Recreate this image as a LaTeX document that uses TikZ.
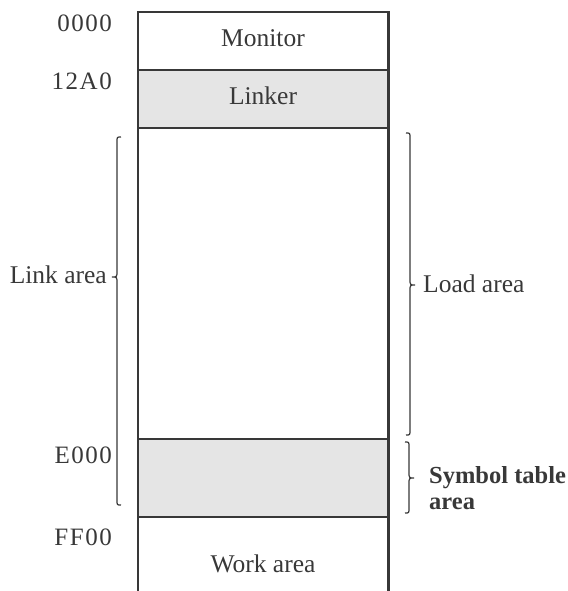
\documentclass[tikz,border=0pt]{standalone}
\usepackage{fontspec}
\setmainfont{Liberation Serif}
\newfontfamily\addrfont[LetterSpace=6]{Liberation Serif}

% memory map of the linker's address space
\colorlet{ink}{black!78}
\colorlet{shade}{black!10}

\tikzset{
  region/.style={draw=none, minimum width=250pt, inner sep=0pt, anchor=north west},
  shaded/.style={region, fill=shade},
  divider/.style={draw=ink, line width=1.2pt},
  frame/.style={draw=ink, line width=2.6pt},
  bracestyle/.style={draw=ink, line width=1.2pt},
  lbl/.style={text=ink, font=\fontsize{25.5}{29}\selectfont, inner sep=0pt},
  addr/.style={lbl, font=\fontsize{25}{29}\selectfont\addrfont, anchor=base east},
}

% x, top, tip, bottom, direction (+1 tip to the right, -1 tip to the left)
\newcommand\sidebrace[5]{%
  \draw[bracestyle] ({#1-(#5)*4},#2) .. controls (#1,#2) .. (#1,#2+5)
    -- (#1,#3-6) .. controls (#1,#3) .. ({#1+(#5)*5},#3)
    .. controls (#1,#3) .. (#1,#3+6)
    -- (#1,#4-5) .. controls (#1,#4) .. ({#1-(#5)*4},#4);}

\begin{document}
\begin{tikzpicture}[x={(1pt,0)}, y={(0,-1pt)}]
  \useasboundingbox (0,0) rectangle (567,591);

  % memory regions
  \node[region, minimum height=58pt]  (monitor) at (138,12)  {};
  \node[shaded, minimum height=58pt]  (linker)  at (138,70)  {};
  \node[region, minimum height=311pt] (load)    at (138,128) {};
  \node[shaded, minimum height=78pt]  (symtab)  at (138,439) {};
  \node[region, minimum height=74pt]  (work)    at (138,517) {};

  % boundaries between regions
  \draw[divider] (linker.north west) -- (linker.north east);
  \draw[divider] (load.north west) -- (load.north east);
  \draw[divider] (symtab.north west) -- (symtab.north east);
  \draw[divider] (work.north west) -- (work.north east);

  % outer frame, open at the bottom
  \draw[frame, line join=miter] (work.south west) -- (monitor.north west)
    -- (monitor.north east) -- (work.south east);

  % region names
  \node[lbl, anchor=base] (tmonitor) at (263,47)  {Monitor};
  \node[lbl, anchor=base] (tlinker)  at (263,105) {Linker};
  \node[lbl, anchor=base] (twork)    at (263,572) {Work area};

  % start addresses
  \node[addr] (a0000) at (112,32)  {0000};
  \node[addr] (a12a0) at (112,90)  {12A0};
  \node[addr] (ae000) at (112,463) {E000};
  \node[addr] (aff00) at (112,545) {FF00};

  % link area
  \sidebrace{117}{137}{277}{505}{-1}
  \node[lbl, anchor=base east] (tlink) at (107,283) {Link area};

  % load area
  \sidebrace{410}{133}{285}{435}{1}
  \node[lbl, anchor=base west] (tload) at (423,292) {Load area};

  % symbol table area
  \sidebrace{409}{442}{478}{513}{1}
  \node[lbl, anchor=base west, font=\fontsize{24.5}{28}\selectfont\bfseries] (tsym) at (429,483) {Symbol table};
  \node[lbl, anchor=base west, font=\fontsize{24.5}{28}\selectfont\bfseries] (tsymarea) at (429,509) {area};
\end{tikzpicture}
\end{document}
